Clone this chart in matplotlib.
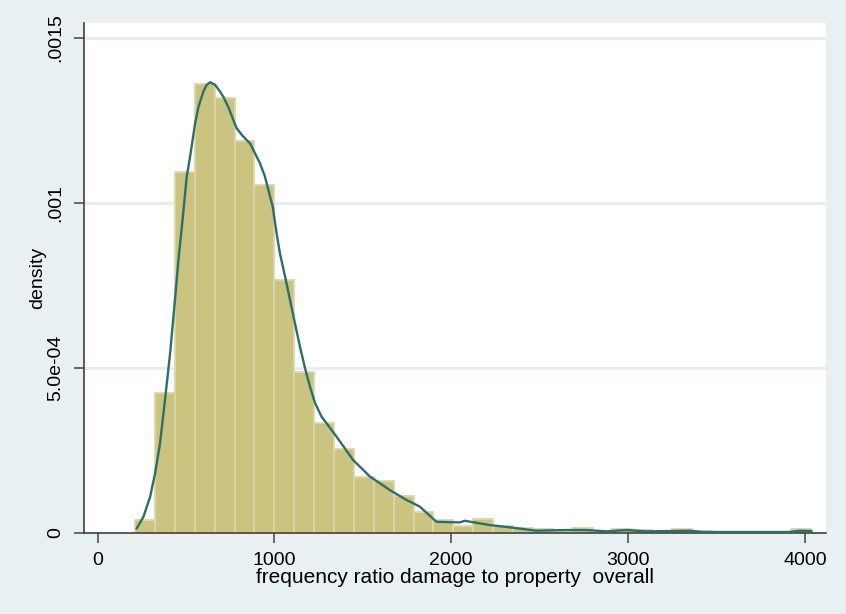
import matplotlib
matplotlib.use('Agg')
import matplotlib.pyplot as plt
import numpy as np

# histogram (34 bins)
bin_start = 212.0
bin_width = 112.5
bar_heights = [
    3.9e-5, 4.23e-4, 1.093e-3, 1.36e-3, 1.317e-3, 1.186e-3, 1.055e-3, 7.67e-4,
    4.87e-4, 3.34e-4, 2.54e-4, 1.71e-4, 1.58e-4, 1.12e-4, 6.5e-5, 3.8e-5,
    2.2e-5, 4.1e-5, 2.0e-5, 1.4e-5, 1.2e-5, 5e-6, 1.5e-5, 3e-6,
    1.2e-5, 8e-6, 0.0, 1.2e-5, 5e-6, 0.0, 0.0, 0.0, 0.0, 1.2e-5,
]

# kernel density curve, traced points
kde_x = [221, 259, 297, 325, 353, 381, 410, 434, 457, 482, 504, 523, 551, 570,
         598, 617, 636, 665, 692, 712, 739, 768, 786, 815, 843, 862, 890, 918,
         946, 965, 990, 1012, 1031, 1060, 1088, 1116, 1144, 1173, 1201, 1230,
         1267, 1351, 1445, 1540, 1653, 1747, 1822, 1916, 2048, 2076, 2218, 2349,
         2481, 2651, 2764, 2877, 2990, 3103, 3253, 3347, 3423, 3912, 3969, 4037]
kde_y = [1.4e-5, 4.9e-5, 1.1e-4, 1.81e-4, 2.72e-4, 4.03e-4, 5.45e-4, 6.86e-4,
         8.27e-4, 9.58e-4, 1.08e-3, 1.14e-3, 1.24e-3, 1.29e-3, 1.337e-3,
         1.357e-3, 1.365e-3, 1.357e-3, 1.337e-3, 1.32e-3, 1.29e-3, 1.25e-3,
         1.226e-3, 1.206e-3, 1.19e-3, 1.18e-3, 1.15e-3, 1.12e-3, 1.08e-3,
         1.04e-3, 9.89e-4, 9.08e-4, 8.47e-4, 7.77e-4, 7.06e-4, 6.35e-4, 5.65e-4,
         4.99e-4, 4.43e-4, 3.93e-4, 3.52e-4, 2.92e-4, 2.21e-4, 1.71e-4, 1.30e-4,
         1.0e-4, 8.0e-5, 3.4e-5, 3.2e-5, 3.7e-5, 2.4e-5, 1.6e-5, 7e-6, 9e-6,
         9e-6, 5e-6, 9e-6, 5e-6, 6e-6, 7e-6, 3e-6, 3e-6, 7e-6, 6e-6]

x_ticks = [0, 1000, 2000, 3000, 4000]
y_ticks = [0, 0.0005, 0.001, 0.0015]
y_tick_labels = ['0', '5.0e-04', '.001', '.0015']

bg = '#e8f0f2'
plt.rcParams['font.family'] = ['Liberation Sans', 'DejaVu Sans']

fig = plt.figure(figsize=(8.46, 6.14), dpi=100, facecolor=bg)
ax = fig.add_axes([83.5 / 846, 1 - 533 / 614, (825.7 - 83.5) / 846, (533 - 23.3) / 614])
ax.set_facecolor('white')

lefts = bin_start + bin_width * np.arange(len(bar_heights))
ax.bar(lefts, bar_heights, width=bin_width, align='edge', color='#cbc380',
       edgecolor='#ddd7a8', linewidth=1.3, zorder=2)
ax.plot(kde_x, kde_y, color='#2b6f6b', linewidth=1.7, zorder=3)

ax.set_xlim(-80, 4118)
ax.set_ylim(0, 0.0015436)
ax.set_xticks(x_ticks)
ax.set_xticklabels([str(t) for t in x_ticks])
ax.set_yticks(y_ticks)
ax.set_yticklabels(y_tick_labels, rotation=90, va='center')

for y in y_ticks[1:]:
    ax.axhline(y, color='#e6eef0', linewidth=2, zorder=1)

for s in ['top', 'right']:
    ax.spines[s].set_visible(False)
for s in ['left', 'bottom']:
    ax.spines[s].set_color('#404040')
    ax.spines[s].set_linewidth(1.2)
ax.tick_params(axis='both', length=7, width=1.2, color='#505050',
               labelsize=14, pad=7, labelcolor='black')

ax.set_xlabel('frequency ratio damage to property  overall', fontsize=15, labelpad=-1)
ax.set_ylabel('density', fontsize=14, labelpad=1)

fig.savefig('out.png', dpi=100, facecolor=bg)
